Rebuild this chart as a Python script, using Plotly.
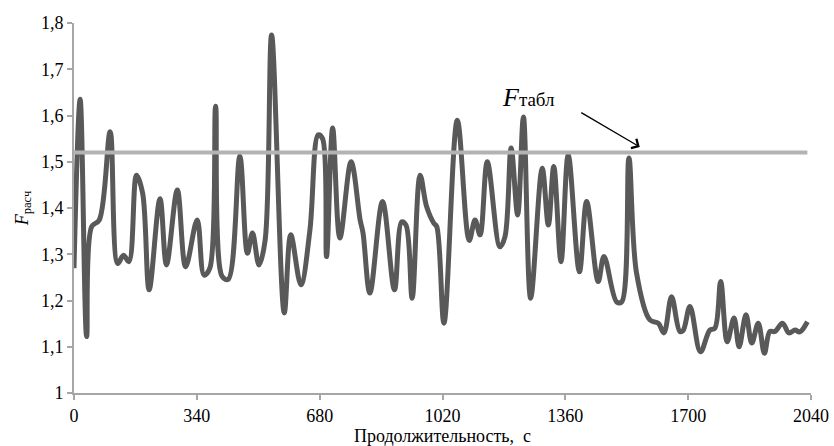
import plotly.graph_objects as go

# Duration, s
t_sec = [0, 17, 35, 49, 70, 100, 121, 137, 152, 173, 190, 208, 238, 256, 286, 309,
         341, 360, 376, 392, 410, 427, 459, 480, 494, 512, 529, 547, 582, 600, 628,
         653, 676, 688, 699, 716, 736, 767, 792, 800, 819, 854, 887, 907, 919, 936,
         958, 976, 996, 1004, 1024, 1061, 1094, 1110, 1124, 1144, 1179, 1193, 1210,
         1228, 1244, 1264, 1296, 1313, 1328, 1348, 1368, 1399, 1419, 1451, 1467,
         1502, 1516, 1536, 1557, 1594, 1617, 1633, 1654, 1677, 1686, 1705, 1734,
         1760, 1774, 1790, 1808, 1827, 1841, 1860, 1876, 1894, 1911, 1926, 1940,
         1961, 1979, 1996, 2009, 2030]

# Calculated F statistic
f_calc = [1.27, 1.635, 1.122, 1.36, 1.374, 1.565, 1.28, 1.298, 1.284, 1.471, 1.432,
          1.223, 1.42, 1.277, 1.439, 1.273, 1.374, 1.255, 1.27, 1.62, 1.252, 1.246,
          1.512, 1.302, 1.346, 1.277, 1.33, 1.774, 1.173, 1.342, 1.234, 1.352, 1.558,
          1.55, 1.295, 1.573, 1.335, 1.50, 1.374, 1.346, 1.216, 1.414, 1.223, 1.37,
          1.363, 1.205, 1.471, 1.403, 1.367, 1.36, 1.151, 1.59, 1.33, 1.374, 1.342,
          1.50, 1.316, 1.338, 1.53, 1.385, 1.597, 1.205, 1.486, 1.363, 1.49, 1.284,
          1.515, 1.262, 1.414, 1.241, 1.295, 1.197, 1.197, 1.508, 1.26, 1.158, 1.151,
          1.13, 1.208, 1.133, 1.135, 1.187, 1.089, 1.136, 1.14, 1.241, 1.111, 1.162,
          1.10, 1.169, 1.108, 1.151, 1.086, 1.133, 1.133, 1.151, 1.13, 1.136, 1.132,
          1.154]

# Tabulated (critical) F value
f_table = 1.52
x_ticks = [0, 340, 680, 1020, 1360, 1700, 2040]

serif = "Liberation Serif"

fig = go.Figure()
fig.add_trace(go.Scatter(
    x=t_sec, y=f_calc, mode="lines",
    line=dict(color="#595959", width=5, shape="spline", smoothing=1.0),
    hoverinfo="skip", showlegend=False))
fig.add_trace(go.Scatter(
    x=[t_sec[0], t_sec[-1]], y=[f_table, f_table], mode="lines",
    line=dict(color="#b3b3b3", width=4),
    hoverinfo="skip", showlegend=False))

fig.add_annotation(
    x=1258, y=1.64, xref="x", yref="y",
    text="<i>F</i><span style='font-size:19px'>табл</span>",
    showarrow=False, font=dict(family=serif, size=26, color="#000000"))
fig.add_annotation(
    x=1566, y=1.532, ax=1400, ay=1.608, xref="x", yref="y", axref="x", ayref="y",
    text="", showarrow=True, arrowhead=4, arrowsize=1.6, arrowwidth=1.3,
    arrowcolor="#000000")

fig.update_layout(
    width=834, height=446,
    margin=dict(l=74, r=23, t=23, b=53, autoexpand=False),
    paper_bgcolor="white", plot_bgcolor="white",
    separators=", ",
    font=dict(family=serif, size=18, color="#000000"),
    xaxis=dict(
        range=[0, 2040], tickvals=x_ticks, ticks="outside", ticklen=5,
        tickcolor="#a6a6a6", tickwidth=1.5, showgrid=False, zeroline=False,
        showline=True, linecolor="#a6a6a6", linewidth=2, automargin=False,
        title=dict(text="Продолжительность,  с", font=dict(size=18), standoff=8)),
    yaxis=dict(
        range=[1, 1.8], dtick=0.1, ticks="outside", ticklen=5,
        tickcolor="#a6a6a6", tickwidth=1.5, showgrid=False, zeroline=False,
        showline=True, linecolor="#a6a6a6", linewidth=2, automargin=False,
        title=dict(text="<i>F</i><sub>расч</sub>", font=dict(size=18), standoff=8)),
)

fig.write_html("out.html")
